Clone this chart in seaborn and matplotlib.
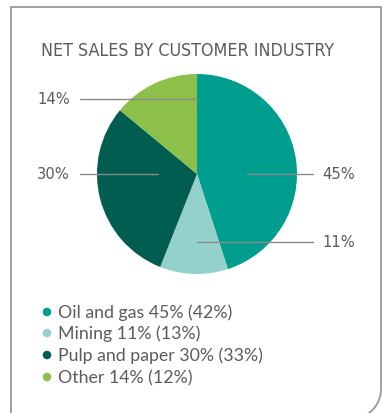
import matplotlib
matplotlib.use("Agg")
import matplotlib.pyplot as plt
import seaborn as sns
from matplotlib.path import Path
from matplotlib.patches import PathPatch
from matplotlib import font_manager as fm
import numpy as np

categories = ["Oil and gas", "Mining", "Pulp and paper", "Other"]
share_current = [45, 11, 30, 14]
share_previous = [42, 13, 33, 12]
colors = ["#009e8f", "#94d1ca", "#005d50", "#8cc04b"]
title = "NET SALES BY CUSTOMER INDUSTRY"

sns.set_theme(style="white")
plt.rcParams["font.family"] = ["DejaVu Sans"]
TXT = "#5b5b5b"

cands = []
for f in fm.fontManager.ttflist:
    low = (f.fname + " " + f.name).lower()
    if ("condensed" in low or "narrow" in low or str(f.stretch) in ("condensed", "semi-condensed")) \
            and f.weight in (400, "normal", "regular") and f.style == "normal" \
            and "bold" not in low and "light" not in low and "mono" not in low:
        cands.append(f)
cond = cands[0] if cands else None

W, H = 383, 414
fig = plt.figure(figsize=(W / 100, H / 100), dpi=100)
fig.patch.set_facecolor("white")

bg = fig.add_axes([0, 0, 1, 1])
bg.set_xlim(0, W)
bg.set_ylim(H, 0)
bg.axis("off")

r = 30
cx, cy = 381 - r, 420 - r
theta = np.linspace(0, np.pi / 2, 30)
pts = [(11, 420), (11, 8), (381, 8), (381, cy)]
pts += [(cx + r * np.cos(t), cy + r * np.sin(t)) for t in theta]
pts += [(11, 420)]
bg.add_patch(PathPatch(Path(pts), facecolor="white", edgecolor="#9a9a9a", lw=1.3, zorder=0))

if cond is not None:
    tfp = fm.FontProperties(fname=cond.fname, size=12.8)
    pfp = fm.FontProperties(fname=cond.fname, size=11.8)
else:
    tfp = fm.FontProperties(family="Liberation Sans", size=11)
    pfp = fm.FontProperties(family="Liberation Sans", size=11.5)

bg.text(41, 51, title, color=TXT, ha="left", va="center", fontproperties=tfp)

ax = fig.add_axes([97 / W, (H - 275) / H, 200 / W, 200 / H])
ax.pie(share_current, colors=colors, startangle=90, counterclock=False,
       radius=1, wedgeprops=dict(linewidth=0))
ax.set_xlim(-1, 1)
ax.set_ylim(-1, 1)
ax.set_aspect("equal")
ax.axis("off")

lines = {
    "Other": ((80, 197), 100, "right"),
    "Pulp and paper": ((80, 158), 175, "right"),
    "Oil and gas": ((247, 313), 175, "left"),
    "Mining": ((197, 313), 243, "left"),
}
ov = fig.add_axes([0, 0, 1, 1])
ov.set_xlim(0, W)
ov.set_ylim(H, 0)
ov.axis("off")
ov.patch.set_alpha(0)
for cat, val in zip(categories, share_current):
    (x0, x1), y, side = lines[cat]
    ov.plot([x0, x1], [y, y], color="#8a8a8a", lw=1.0)
    xt, ha = (70, "right") if side == "right" else (322, "left")
    ov.text(xt, y, f"{val}%", color=TXT, ha=ha, va="center", fontproperties=pfp)

ys = [313, 334, 356, 378]
for cat, cur, prev, col, y in zip(categories, share_current, share_previous, colors, ys):
    ov.scatter([47], [y], s=38, color=col, edgecolor="none")
    ov.text(58, y, f"{cat} {cur}% ({prev}%)", fontsize=12.8, color=TXT,
            ha="left", va="center", family=["Lato", "DejaVu Sans"])

fig.savefig("out.png", dpi=100, facecolor="white")
